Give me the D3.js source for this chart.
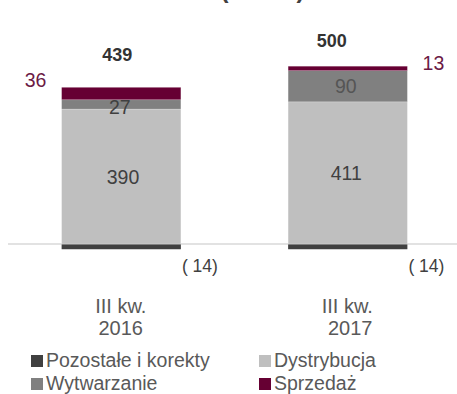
<!DOCTYPE html>
<html>
<head>
<meta charset="utf-8">
<script src="https://cdn.jsdelivr.net/npm/d3@7"></script>
<style>
  html, body { margin: 0; padding: 0; background: #fff; }
  svg { display: block; font-family: "Liberation Sans", Arial, sans-serif; }
</style>
</head>
<body>
<svg id="chart" width="457" height="394"></svg>
<script>
// Quarterly EBITDA by segment (mln zł)
const categories = ["III kw. 2016", "III kw. 2017"];
const categoryLines = [["III kw.", "2016"], ["III kw.", "2017"]];
const seriesNames = ["Pozostałe i korekty", "Dystrybucja", "Wytwarzanie", "Sprzedaż"];
const pozostale = [-14, -14];
const dystrybucja = [390, 411];
const wytwarzanie = [27, 90];
const sprzedaz = [36, 13];
const totals = [439, 500];

const colors = {
  "Pozostałe i korekty": "#404040",
  "Dystrybucja": "#bfbfbf",
  "Wytwarzanie": "#808080",
  "Sprzedaż": "#660033"
};

const svg = d3.select("#chart");
const W = 457;

const x = d3.scaleBand().domain(categories).range([8, 461]).paddingInner(0.4735).paddingOuter(0.2367);
const y = d3.scaleLinear().domain([0, 600]).range([244, 36.46]);

// Title line, mostly above the top edge
svg.append("text")
  .attr("x", 262.5).attr("y", -1.7)
  .attr("text-anchor", "middle")
  .attr("font-size", 24).attr("font-weight", "bold")
  .attr("fill", "#404040")
  .text("(mln zł)");

// Stacked positive segments, bottom to top
const stackOrder = [
  { name: "Dystrybucja", values: dystrybucja },
  { name: "Wytwarzanie", values: wytwarzanie },
  { name: "Sprzedaż", values: sprzedaz }
];

const segs = [];
categories.forEach((c, i) => {
  let base = 0;
  stackOrder.forEach(s => {
    const v = s.values[i];
    segs.push({ cat: c, i, name: s.name, y0: base, y1: base + v, v });
    base += v;
  });
});

// Zero baseline
svg.append("line")
  .attr("x1", 8).attr("x2", W)
  .attr("y1", y(0)).attr("y2", y(0))
  .attr("stroke", "#d9d9d9").attr("stroke-width", 1.5);

svg.append("g").selectAll("rect")
  .data(segs).join("rect")
  .attr("x", d => x(d.cat))
  .attr("width", x.bandwidth())
  .attr("y", d => y(d.y1))
  .attr("height", d => y(d.y0) - y(d.y1))
  .attr("fill", d => colors[d.name])
  .attr("stroke", "#ffffff").attr("stroke-opacity", 0.35).attr("stroke-width", 0.6);

// Negative segment below the baseline
svg.append("g").selectAll("rect")
  .data(categories).join("rect")
  .attr("x", c => x(c))
  .attr("width", x.bandwidth())
  .attr("y", y(0) + 0.4)
  .attr("height", (c, i) => y(pozostale[i]) - y(0))
  .attr("fill", colors["Pozostałe i korekty"]);

// Labels inside the Dystrybucja and Wytwarzanie segments
const inside = segs.filter(d => d.name !== "Sprzedaż");
svg.append("g").selectAll("text")
  .data(inside).join("text")
  .attr("x", d => x(d.cat) + x.bandwidth() / 2 + (d.name === "Wytwarzanie" ? (d.i === 0 ? -1.5 : -2) : (d.i === 0 ? 1.8 : -1.5)))
  .attr("y", d => (y(d.y0) + y(d.y1)) / 2 + (d.name === "Wytwarzanie" && d.i === 0 ? 9.6 : 7))
  .attr("text-anchor", "middle")
  .attr("font-size", 19.5)
  .attr("fill", d => d.name === "Wytwarzanie" && d.i === 1 ? "#555555" : "#404040")
  .text(d => d.v);

// Sprzedaż labels beside the bars
const sideOffset = [-26, 26];
svg.append("g").selectAll("text")
  .data(categories).join("text")
  .attr("x", (c, i) => i === 0 ? x(c) + sideOffset[i] : x(c) + x.bandwidth() + sideOffset[i])
  .attr("y", (c, i) => {
    const top = y(dystrybucja[i] + wytwarzanie[i] + sprzedaz[i]);
    return i === 0 ? top : top + 4;
  })
  .attr("text-anchor", "middle")
  .attr("font-size", 19.5)
  .attr("fill", "#6b1a45")
  .text((c, i) => sprzedaz[i]);

// Totals above the bars
const totalDx = [-4, -16];
const totalDy = [-26, -19];
svg.append("g").selectAll("text")
  .data(categories).join("text")
  .attr("x", (c, i) => x(c) + x.bandwidth() / 2 + totalDx[i])
  .attr("y", (c, i) => y(dystrybucja[i] + wytwarzanie[i] + sprzedaz[i]) + totalDy[i])
  .attr("text-anchor", "middle")
  .attr("font-size", 18).attr("font-weight", "bold")
  .attr("fill", "#333333")
  .text((c, i) => totals[i]);

// Negative value labels
svg.append("g").selectAll("text")
  .data(categories).join("text")
  .attr("x", c => x(c) + x.bandwidth() + 19)
  .attr("y", (c, i) => y(pozostale[i]) + 23)
  .attr("text-anchor", "middle")
  .attr("font-size", 17.5)
  .attr("fill", "#404040")
  .text((c, i) => "( " + Math.abs(pozostale[i]) + ")");

// Category labels
const catG = svg.append("g");
categories.forEach((c, i) => {
  const t = catG.append("text")
    .attr("text-anchor", "middle")
    .attr("font-size", 20)
    .attr("fill", "#595959");
  categoryLines[i].forEach((line, j) => {
    t.append("tspan")
      .attr("x", x(c) + x.bandwidth() / 2 + (j === 1 && i === 1 ? 2.5 : -0.5))
      .attr("y", 312.7 + j * 22.3)
      .text(line);
  });
});

// Legend
const legendItems = [
  { name: "Pozostałe i korekty", lx: 31, ly: 355 },
  { name: "Dystrybucja", lx: 259, ly: 355 },
  { name: "Wytwarzanie", lx: 31, ly: 378 },
  { name: "Sprzedaż", lx: 259, ly: 378 }
];
const lg = svg.append("g").selectAll("g")
  .data(legendItems).join("g")
  .attr("transform", d => `translate(${d.lx},${d.ly})`);
lg.append("rect")
  .attr("width", 12).attr("height", 12)
  .attr("fill", d => colors[d.name]);
lg.append("text")
  .attr("x", 15).attr("y", 11.7)
  .attr("font-size", 19.5)
  .attr("fill", "#595959")
  .text(d => d.name);
</script>
</body>
</html>
